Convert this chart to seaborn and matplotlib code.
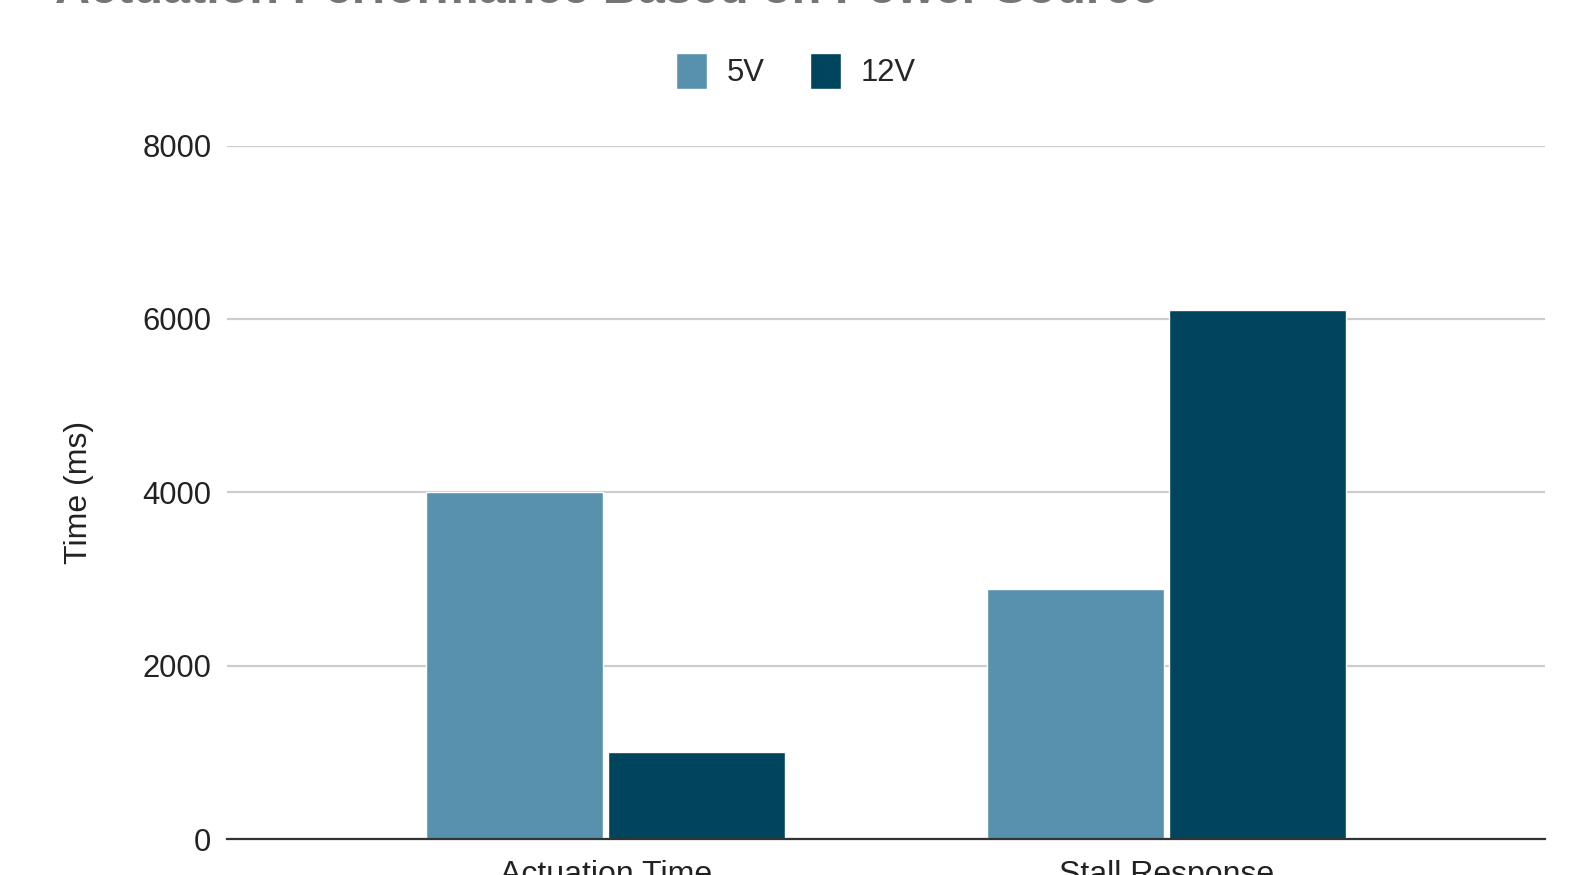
import numpy as np
import pandas as pd
import seaborn as sns
import matplotlib.pyplot as plt

# data
categories = ['Actuation Time', 'Stall Response']
series = ['5V', '12V']
values_5v = [4000, 2890]
values_12v = [1000, 6100]
colors = ['#5891ae', '#01445e']

df = pd.DataFrame({
    'category': categories * 2,
    'source': [series[0]] * 2 + [series[1]] * 2,
    'time': values_5v + values_12v,
})

sns.set_theme(style='white')
plt.rcParams['font.family'] = ['Liberation Sans', 'DejaVu Sans']

fig = plt.figure(figsize=(15.85, 8.75), dpi=100)
ax = fig.add_axes([0.143, 0.0411, 0.832, 0.7925])

sns.barplot(data=df, x='category', y='time', hue='source', order=categories,
            hue_order=series, palette=colors, width=0.65, gap=0.028,
            saturation=1, ax=ax, legend=True)

ax.set_xlim(-0.677, 1.677)
ax.set_ylim(0, 8000)
ax.set_yticks([0, 2000, 4000, 6000, 8000])
ax.yaxis.grid(True, color='#cccccc', linewidth=1.6)
ax.set_axisbelow(True)
for s in ['left', 'right', 'top']:
    ax.spines[s].set_visible(False)
ax.spines['bottom'].set_color('#333333')
ax.spines['bottom'].set_linewidth(1.6)
ax.tick_params(axis='y', length=0, labelsize=22.3, pad=11, labelcolor='#222222')
ax.tick_params(axis='x', length=0, labelsize=23, pad=15, labelcolor='#222222')
ax.set_xlabel('')
ax.set_ylabel('Time (ms)', fontsize=23, color='#222222', labelpad=35)

handles, labels = ax.get_legend_handles_labels()
ax.get_legend().remove()
fig.legend(handles, labels, loc='center', bbox_to_anchor=(0.502, 1 - 71 / 875),
           ncol=2, frameon=False, fontsize=22.3, handlelength=1.0,
           handleheight=1.4, handletextpad=0.65, columnspacing=1.45)

fig.text(55 / 1585, 1 - 3 / 875, 'Actuation Performance Based on Power Source',
         fontsize=35, fontweight='bold', color='#757575', va='baseline')

fig.savefig('out.png', dpi=100)
